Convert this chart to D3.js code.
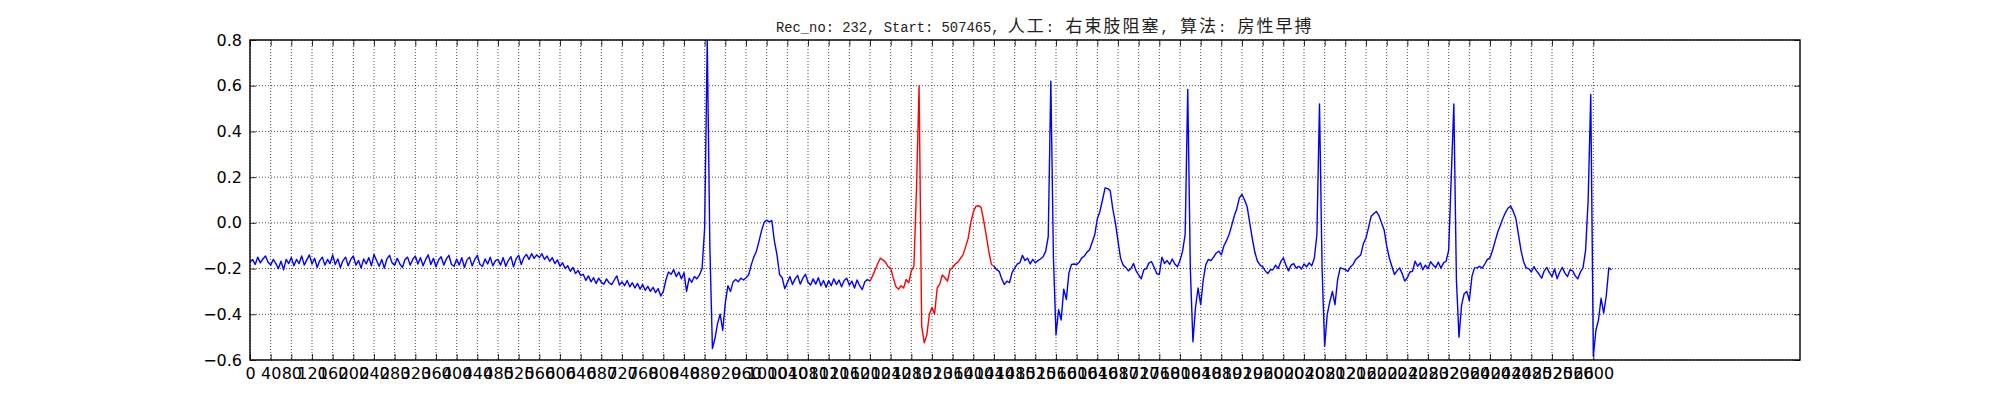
<!DOCTYPE html>
<html lang="zh">

<head>
    <meta charset="UTF-8">
    <title>Rec_no: 232, Start: 507465</title>
    <script src="https://d3js.org/d3.v7.min.js"></script>
    <style>
        body {
            margin: 0;
            background: #fff;
        }

        svg {
            display: block;
        }

        .tick text {
            font-family: "DejaVu Sans", sans-serif;
            fill: #000;
        }

        .tick line {
            stroke: #000;
            stroke-width: 0.8;
        }

        .grid line {
            stroke: #000;
            stroke-width: 0.7;
            stroke-dasharray: 1, 2;
        }
    </style>
</head>

<body>
    <script>
        // ECG trace, one value every 5 samples (0 .. 2635)
        const sampleStep = 5;
        const ecgValues = [
            -0.172, -0.160, -0.182, -0.150, -0.175, -0.158, -0.145, -0.172, -0.185, -0.160, -0.178, -0.200, -0.168, -0.205, -0.160, -0.178,
            -0.152, -0.188, -0.160, -0.178, -0.145, -0.185, -0.162, -0.140, -0.180, -0.155, -0.195, -0.165, -0.150, -0.185, -0.160, -0.178,
            -0.140, -0.182, -0.158, -0.195, -0.165, -0.150, -0.188, -0.160, -0.145, -0.185, -0.165, -0.198, -0.158, -0.180, -0.152, -0.188,
            -0.138, -0.165, -0.190, -0.160, -0.198, -0.158, -0.142, -0.175, -0.185, -0.155, -0.180, -0.195, -0.160, -0.150, -0.185, -0.160,
            -0.145, -0.180, -0.152, -0.188, -0.160, -0.140, -0.182, -0.155, -0.192, -0.162, -0.148, -0.185, -0.158, -0.142, -0.182, -0.190,
            -0.158, -0.185, -0.152, -0.195, -0.162, -0.150, -0.188, -0.160, -0.142, -0.182, -0.190, -0.158, -0.180, -0.150, -0.188, -0.165,
            -0.160, -0.185, -0.152, -0.190, -0.165, -0.148, -0.192, -0.158, -0.142, -0.182, -0.152, -0.138, -0.160, -0.135, -0.155, -0.140,
            -0.152, -0.135, -0.160, -0.145, -0.168, -0.152, -0.178, -0.162, -0.190, -0.175, -0.200, -0.188, -0.212, -0.195, -0.222, -0.208,
            -0.230, -0.225, -0.252, -0.232, -0.258, -0.240, -0.265, -0.242, -0.260, -0.268, -0.245, -0.262, -0.270, -0.250, -0.232, -0.272,
            -0.258, -0.275, -0.252, -0.280, -0.262, -0.285, -0.265, -0.290, -0.270, -0.295, -0.278, -0.300, -0.282, -0.305, -0.288, -0.320,
            -0.300, -0.250, -0.215, -0.225, -0.205, -0.235, -0.215, -0.245, -0.218, -0.300, -0.242, -0.260, -0.235, -0.245, -0.228, -0.200,
            -0.020, 0.800, -0.100, -0.550, -0.505, -0.440, -0.400, -0.470, -0.350, -0.275, -0.300, -0.258, -0.248, -0.258, -0.242, -0.250,
            -0.240, -0.228, -0.185, -0.150, -0.125, -0.082, -0.035, 0.002, 0.012, 0.004, 0.010, -0.080, -0.140, -0.226, -0.240, -0.288,
            -0.262, -0.235, -0.270, -0.245, -0.230, -0.268, -0.242, -0.225, -0.260, -0.272, -0.245, -0.268, -0.240, -0.275, -0.252, -0.282,
            -0.252, -0.275, -0.245, -0.270, -0.250, -0.280, -0.252, -0.242, -0.272, -0.255, -0.285, -0.250, -0.275, -0.292, -0.258, -0.248,
            -0.255, -0.232, -0.205, -0.178, -0.155, -0.162, -0.172, -0.192, -0.198, -0.240, -0.278, -0.290, -0.275, -0.285, -0.248, -0.262,
            -0.210, -0.190, 0.150, 0.600, -0.450, -0.525, -0.490, -0.400, -0.370, -0.400, -0.285, -0.268, -0.228, -0.240, -0.255, -0.205,
            -0.195, -0.180, -0.172, -0.155, -0.140, -0.105, -0.068, 0.000, 0.048, 0.073, 0.075, 0.068, 0.010, -0.055, -0.125, -0.182,
            -0.190, -0.205, -0.212, -0.245, -0.270, -0.255, -0.262, -0.218, -0.198, -0.180, -0.175, -0.142, -0.165, -0.155, -0.180, -0.160,
            -0.175, -0.165, -0.158, -0.148, -0.125, -0.060, 0.620, -0.150, -0.490, -0.380, -0.425, -0.290, -0.335, -0.220, -0.182, -0.180,
            -0.182, -0.172, -0.153, -0.145, -0.128, -0.118, -0.085, -0.052, 0.018, 0.050, 0.100, 0.153, 0.150, 0.140, 0.060, 0.000,
            -0.080, -0.155, -0.185, -0.195, -0.210, -0.200, -0.178, -0.210, -0.228, -0.245, -0.205, -0.200, -0.175, -0.170, -0.195, -0.222,
            -0.226, -0.150, -0.178, -0.165, -0.182, -0.158, -0.180, -0.192, -0.165, -0.124, -0.050, 0.584, -0.200, -0.520, -0.370, -0.285,
            -0.358, -0.250, -0.182, -0.160, -0.165, -0.150, -0.132, -0.124, -0.140, -0.100, -0.078, -0.051, -0.012, 0.030, 0.062, 0.110,
            0.124, 0.100, 0.070, 0.000, -0.070, -0.130, -0.168, -0.185, -0.192, -0.210, -0.222, -0.205, -0.205, -0.185, -0.200, -0.170,
            -0.153, -0.185, -0.210, -0.185, -0.178, -0.198, -0.190, -0.202, -0.180, -0.192, -0.175, -0.188, -0.155, -0.050, 0.520, -0.200,
            -0.540, -0.400, -0.345, -0.300, -0.358, -0.250, -0.197, -0.200, -0.205, -0.212, -0.192, -0.182, -0.160, -0.150, -0.139, -0.090,
            -0.066, -0.020, 0.029, 0.040, 0.050, 0.032, 0.000, -0.030, -0.100, -0.153, -0.190, -0.226, -0.210, -0.197, -0.222, -0.255,
            -0.240, -0.215, -0.212, -0.168, -0.190, -0.175, -0.205, -0.185, -0.200, -0.170, -0.185, -0.195, -0.172, -0.198, -0.175, -0.168,
            -0.120, 0.200, 0.520, -0.250, -0.500, -0.360, -0.310, -0.300, -0.340, -0.235, -0.197, -0.197, -0.190, -0.198, -0.180, -0.160,
            -0.153, -0.120, -0.080, -0.040, -0.010, 0.020, 0.045, 0.065, 0.073, 0.050, 0.020, -0.050, -0.120, -0.170, -0.197, -0.200,
            -0.215, -0.192, -0.210, -0.225, -0.242, -0.210, -0.195, -0.218, -0.235, -0.202, -0.245, -0.215, -0.195, -0.220, -0.235, -0.205,
            -0.210, -0.232, -0.245, -0.215, -0.197, -0.120, 0.100, 0.562, -0.584, -0.470, -0.425, -0.330, -0.395, -0.320, -0.197, -0.205
        ];

        // sample range of the flagged beat (drawn red, the rest blue)
        const redRange = [1200, 1440];

        // tick positions / labels
        const xTicks = [
            0, 40, 80, 120, 160, 200, 240, 280, 320, 360, 400, 440, 480, 520, 560, 600, 640, 680, 720, 760,
            800, 840, 880, 920, 960, 1000, 1040, 1080, 1120, 1160, 1200, 1240, 1280, 1320, 1360, 1400, 1440, 1480, 1520, 1560,
            1600, 1640, 1680, 1720, 1760, 1800, 1840, 1880, 1920, 1960, 2000, 2040, 2080, 2120, 2160, 2200, 2240, 2280, 2320, 2360,
            2400, 2440, 2480, 2520, 2560, 2600
        ];
        const yTicks = [-0.6, -0.4, -0.2, 0.0, 0.2, 0.4, 0.6, 0.8];
        const xDomain = [0, 3000];
        const yDomain = [-0.6, 0.8];

        const titleText = "Rec_no: 232, Start: 507465, 人工: 右束肢阻塞, 算法: 房性早搏";

        // figure size and axes box
        const width = 2000;
        const height = 400;
        const margin = { top: 40, right: 200, bottom: 40, left: 250 };
        const tickLen = 6;
        const labelSize = 16;

        const x = d3.scaleLinear()
            .domain(xDomain)
            .range([margin.left, width - margin.right]);

        const y = d3.scaleLinear()
            .domain(yDomain)
            .range([height - margin.bottom, margin.top]);

        const svg = d3.select("body").append("svg")
            .attr("width", width)
            .attr("height", height);

        svg.append("rect")
            .attr("width", width)
            .attr("height", height)
            .attr("fill", "#fff");

        svg.append("clipPath")
            .attr("id", "plot-clip")
            .append("rect")
            .attr("x", margin.left)
            .attr("y", margin.top)
            .attr("width", width - margin.left - margin.right)
            .attr("height", height - margin.top - margin.bottom);

        // dotted grid
        const grid = svg.append("g").attr("class", "grid");
        grid.selectAll(".vg")
            .data(xTicks)
            .join("line")
            .attr("class", "vg")
            .attr("x1", d => x(d)).attr("x2", d => x(d))
            .attr("y1", margin.top).attr("y2", height - margin.bottom);
        grid.selectAll(".hg")
            .data(yTicks)
            .join("line")
            .attr("class", "hg")
            .attr("x1", margin.left).attr("x2", width - margin.right)
            .attr("y1", d => y(d)).attr("y2", d => y(d));

        // ECG trace
        const points = ecgValues.map((v, i) => ({ i: i * sampleStep, v: v }));
        const inRed = d => d.i >= redRange[0] && d.i <= redRange[1];

        const line = d3.line()
            .x(d => x(d.i))
            .y(d => y(d.v));

        const plot = svg.append("g").attr("clip-path", "url(#plot-clip)");

        // blue outside the flagged range (the gap joins up with the red piece)
        plot.append("path")
            .datum(points)
            .attr("fill", "none")
            .attr("stroke", "#0000ff")
            .attr("stroke-width", 1.4)
            .attr("stroke-linejoin", "round")
            .attr("d", line.defined(d => d.i <= redRange[0] || d.i >= redRange[1]));

        plot.append("path")
            .datum(points.filter(inRed))
            .attr("fill", "none")
            .attr("stroke", "#ff0000")
            .attr("stroke-width", 1.4)
            .attr("stroke-linejoin", "round")
            .attr("d", line.defined(() => true));

        // axes, ticks pointing inwards on all four sides
        const fmtY = d3.format(".1f");

        svg.append("g")
            .attr("transform", `translate(0,${height - margin.bottom})`)
            .call(d3.axisBottom(x).tickValues(xTicks).tickFormat(d3.format("d"))
                .tickSize(-tickLen).tickPadding(8))
            .call(g => g.select(".domain").remove())
            .selectAll("text").attr("font-size", labelSize);

        svg.append("g")
            .attr("transform", `translate(0,${margin.top})`)
            .call(d3.axisTop(x).tickValues(xTicks).tickFormat("").tickSize(-tickLen))
            .call(g => g.select(".domain").remove());

        svg.append("g")
            .attr("transform", `translate(${margin.left},0)`)
            .call(d3.axisLeft(y).tickValues(yTicks).tickFormat(fmtY)
                .tickSize(-tickLen).tickPadding(8))
            .call(g => g.select(".domain").remove())
            .selectAll("text").attr("font-size", labelSize);

        svg.append("g")
            .attr("transform", `translate(${width - margin.right},0)`)
            .call(d3.axisRight(y).tickValues(yTicks).tickFormat("").tickSize(-tickLen))
            .call(g => g.select(".domain").remove());

        // axes frame
        svg.append("rect")
            .attr("x", margin.left)
            .attr("y", margin.top)
            .attr("width", width - margin.left - margin.right)
            .attr("height", height - margin.top - margin.bottom)
            .attr("fill", "none")
            .attr("stroke", "#000")
            .attr("stroke-width", 1.4);

        // title: latin runs in a monospace face, CJK runs in Noto Sans CJK,
        // a little letter spacing after the first run to match the wider original
        const isCJK = s => /[\u4e00-\u9fff]/.test(s);
        const runs = titleText.match(/[\u4e00-\u9fff]+|[^\u4e00-\u9fff]+/g);

        svg.append("text")
            .attr("x", 776)
            .attr("y", 32)
            .attr("text-anchor", "start")
            .style("white-space", "pre")
            .attr("fill", "#222")
            .selectAll("tspan")
            .data(runs)
            .join("tspan")
            .attr("font-family", d => isCJK(d) ? "Noto Sans CJK SC" : "Liberation Mono")
            .attr("font-size", d => isCJK(d) ? 17 : 13.8)
            .attr("letter-spacing", (d, i) => i === 0 ? 0 : (isCJK(d) ? 2 : 1.5))
            .text(d => d);
    </script>
</body>

</html>
